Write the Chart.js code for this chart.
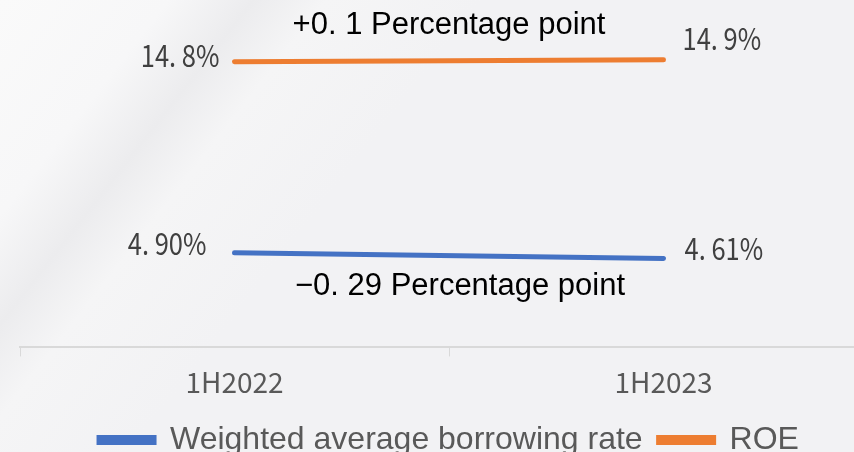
<!DOCTYPE html>
<html lang="en">
<head>
    <meta charset="utf-8">
    <title>Borrowing rate vs ROE</title>
    <script src="https://cdn.jsdelivr.net/npm/chart.js"></script>
    <style>
        html, body { margin: 0; padding: 0; width: 854px; height: 452px; overflow: hidden; }
        body {
            background-color: #f2f2f4;
            background-image: linear-gradient(128deg, #fafafa 0%, #f7f7f8 14%, #ececee 21%, #f5f5f6 27%, #f2f2f4 40%, #f2f2f4 100%);
        }
        #wrap { position: absolute; left: 0; top: 0; }
    </style>
</head>
<body>
    <div id="wrap"><canvas id="rateChart" width="892" height="466"></canvas></div>

    <script>
        const periods = ['1H2022', '1H2023'];
        const borrowingRate = [4.90, 4.61];
        const roe = [14.8, 14.9];

        const blue = '#4472C4';
        const orange = '#ED7D31';
        const numFont = '"Noto Sans CJK SC", "Noto Sans", sans-serif';
        const textFont = '"Liberation Sans", Arial, sans-serif';

        // "4.90" -> "4. 90%"
        function pct(v, digits) {
            return v.toFixed(digits).replace('.', '. ') + '%';
        }
        function change(arr, digits) {
            const d = arr[1] - arr[0];
            const s = Math.abs(d).toFixed(digits).replace('.', '. ');
            return (d >= 0 ? '+' : '\u2212') + s + ' Percentage point';
        }

        // value labels beside each end point, plus the change note between them
        const labelPlugin = {
            id: 'endLabels',
            afterDatasetsDraw(chart) {
                const ctx = chart.ctx;
                const squeeze = 0.85;
                const cfg = [
                    { ds: 1, digits: 1, off: [[-15, -6], [19, -21]], note: [0, -35] },
                    { ds: 0, digits: 2, off: [[-28, -9], [21, -10]], note: [11, 31] }
                ];
                cfg.forEach(c => {
                    const meta = chart.getDatasetMeta(c.ds);
                    const data = chart.data.datasets[c.ds].data;
                    meta.data.forEach((pt, i) => {
                        ctx.save();
                        ctx.font = '30px ' + numFont;
                        ctx.fillStyle = '#404040';
                        ctx.textBaseline = 'middle';
                        ctx.textAlign = i === 0 ? 'right' : 'left';
                        ctx.translate(pt.x + c.off[i][0], pt.y + c.off[i][1]);
                        ctx.scale(squeeze, 1);
                        ctx.fillText(pct(data[i], c.digits), 0, 0);
                        ctx.restore();
                    });
                    const a = meta.data[0], b = meta.data[1];
                    ctx.save();
                    ctx.font = '31px ' + textFont;
                    ctx.fillStyle = '#000000';
                    ctx.textAlign = 'center';
                    ctx.textBaseline = 'middle';
                    ctx.fillText(change(data, c.digits), (a.x + b.x) / 2 + c.note[0], (a.y + b.y) / 2 + c.note[1]);
                    ctx.restore();
                });
            }
        };

        new Chart(document.getElementById('rateChart'), {
            type: 'line',
            data: {
                labels: periods,
                datasets: [
                    {
                        label: 'Weighted average borrowing rate',
                        data: borrowingRate,
                        borderColor: blue,
                        backgroundColor: blue,
                        borderWidth: 5,
                        borderCapStyle: 'round',
                        pointRadius: 0
                    },
                    {
                        label: 'ROE',
                        data: roe,
                        borderColor: orange,
                        backgroundColor: orange,
                        borderWidth: 5,
                        borderCapStyle: 'round',
                        pointRadius: 0
                    }
                ]
            },
            options: {
                responsive: false,
                animation: false,
                devicePixelRatio: 1,
                layout: { padding: { left: 20, right: 14, top: 0, bottom: 0 } },
                plugins: {
                    tooltip: { enabled: false },
                    legend: {
                        position: 'bottom',
                        labels: {
                            boxWidth: 55,
                            boxHeight: 5,
                            padding: 16,
                            color: '#595959',
                            font: { family: textFont, size: 32 }
                        }
                    }
                },
                scales: {
                    x: {
                        offset: true,
                        border: { display: true, color: '#d9d9d9', width: 2 },
                        grid: { display: true, drawOnChartArea: false, tickLength: 9, color: '#d9d9d9', offset: true },
                        ticks: { color: '#595959', font: { family: numFont, size: 28 }, padding: 9 }
                    },
                    y: { display: false, min: 0, max: 18 }
                }
            },
            plugins: [labelPlugin]
        });
    </script>
</body>
</html>
